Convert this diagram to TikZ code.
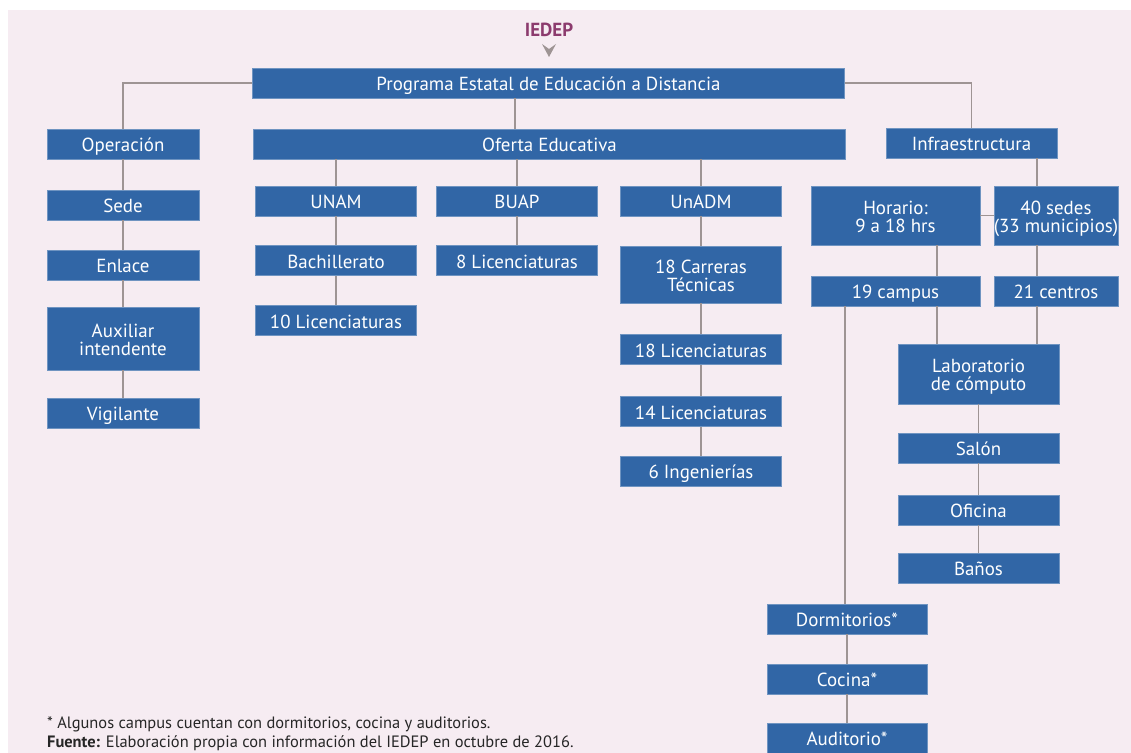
\documentclass[tikz,border=0pt]{standalone}
\usepackage{fontspec}
\setmainfont{PT Sans}
\definecolor{bgpink}{HTML}{F6ECF2}
\definecolor{boxblue}{HTML}{3166A6}
\definecolor{linkgray}{HTML}{9E9494}
\definecolor{iedep}{HTML}{8C3B6E}
\tikzset{
  box/.style={fill=boxblue, draw=boxblue!70!white, line width=0.6bp, text=white,
    inner sep=0pt, align=center, font=\fontsize{19}{18}\selectfont,
    text height=15bp, text depth=0bp, minimum height=30bp},
  twoline/.style={text height=33bp, text depth=0bp},
  wide/.style={minimum width=592bp},
  colA/.style={minimum width=152bp},
  colB/.style={minimum width=161bp},
  colC/.style={minimum width=169bp},
  colD/.style={minimum width=124bp},
  link/.style={draw=linkgray, line width=1.6bp},
  note/.style={anchor=west, inner sep=0pt, font=\fontsize{16.5}{18}\selectfont, text=black!85}
}
\begin{document}
\begin{tikzpicture}[x=1bp, y=-1bp]
\useasboundingbox (0,0) rectangle (1131,753);
\fill[bgpink] (8,10) rectangle (1131,753);

% header
\node[font=\bfseries\fontsize{19}{19}\selectfont, text=iedep] (iedep) at (549,30) {IEDEP};
\fill[linkgray] (542,44) -- (549,49) -- (556,44) -- (549,57) -- cycle;

% tie points for the off-centre connectors
\coordinate (xmid) at (515,0);
\coordinate (xsed) at (1037,0);
\coordinate (xcam) at (937,0);
\coordinate (xdor) at (845,0);

% boxes
\node[box, wide] (prog) at (548.5,83) {Programa Estatal de Educación a Distancia};

\node[box, colA] (oper) at (123,144) {Operación};
\node[box, colA] (sede) at (123,205) {Sede};
\node[box, colA] (enlace) at (123,265) {Enlace};
\node[box, colA, twoline, minimum height=63bp] (aux) at (123,338.5) {Auxiliar\\intendente};
\node[box, colA] (vig) at (123,413) {Vigilante};

\node[box, wide] (oferta) at (549.5,144) {Oferta Educativa};
\node[box, colB] (unam) at (336,201) {UNAM};
\node[box, colB] (bach) at (336,260.5) {Bachillerato};
\node[box, colB] (lic10) at (336,320.5) {10 Licenciaturas};
\node[box, colB] (buap) at (517,201) {BUAP};
\node[box, colB] (lic8) at (517,260.5) {8 Licenciaturas};
\node[box, colB] (unadm) at (701,201) {UnADM};
\node[box, colB, twoline, minimum height=57bp] (carr) at (701,274.5) {18 Carreras\\Técnicas};
\node[box, colB] (lic18) at (701,349.5) {18 Licenciaturas};
\node[box, colB] (lic14) at (701,411.5) {14 Licenciaturas};
\node[box, colB] (ing6) at (701,471) {6 Ingenierías};

\node[box, minimum width=171bp] (infra) at (971.5,143) {Infraestructura};
\node[box, colC, twoline, minimum height=59bp] (horario) at (895.5,215.5) {Horario:\\9 a 18 hrs};
\node[box, colD, twoline, minimum height=59bp] (sedes) at (1056,215.5) {40 sedes\\(33 municipios)};
\node[box, colC] (campus) at (895.5,291) {19 campus};
\node[box, colD] (centros) at (1056,291) {21 centros};
\node[box, colB, twoline, minimum height=60bp] (lab) at (978.5,374) {Laboratorio\\de cómputo};
\node[box, colB] (salon) at (978.5,448) {Salón};
\node[box, colB] (oficina) at (978.5,510) {Oficina};
\node[box, colB] (banos) at (978.5,568) {Baños};
\node[box, minimum width=160bp] (dorm) at (847,619) {Dormitorios*};
\node[box, minimum width=160bp] (cocina) at (847,679) {Cocina*};
\node[box, minimum width=160bp] (audit) at (847,738) {Auditorio*};

% footnote
\node[note] (fn1) at (47,724) {* Algunos campus cuentan con dormitorios, cocina y auditorios.};
\node[note] (fn2) at (47,743) {\textbf{Fuente:} Elaboración propia con información del IEDEP en octubre de 2016.};

% connectors
\begin{scope}[link]
\draw (prog.west) -| (oper.north);
\draw (prog.east) -| (infra.north);
\draw (prog.south -| xmid) -- (oferta.north -| xmid);
\draw (oper) -- (sede) (sede) -- (enlace) (enlace) -- (aux) (aux) -- (vig);
\draw (oferta.south -| unam) -- (unam.north);
\draw (oferta.south -| buap) -- (buap.north);
\draw (oferta.south -| unadm) -- (unadm.north);
\draw (unam) -- (bach) (bach) -- (lic10);
\draw (buap) -- (lic8);
\draw (unadm) -- (carr) (carr) -- (lic18) (lic18) -- (lic14) (lic14) -- (ing6);
\draw (infra.south -| xsed) -- (sedes.north -| xsed);
\draw (horario) -- (sedes);
\draw (horario.south -| xcam) -- (campus.north -| xcam);
\draw (sedes.south -| xsed) -- (centros.north -| xsed);
\draw (campus.south -| xcam) -- (lab.north -| xcam);
\draw (centros.south -| xsed) -- (lab.north -| xsed);
\draw (lab) -- (salon) (salon) -- (oficina) (oficina) -- (banos);
\draw (campus.south -| xdor) -- (dorm.north -| xdor);
\draw (dorm) -- (cocina) (cocina) -- (audit);
\end{scope}
\end{tikzpicture}
\end{document}
